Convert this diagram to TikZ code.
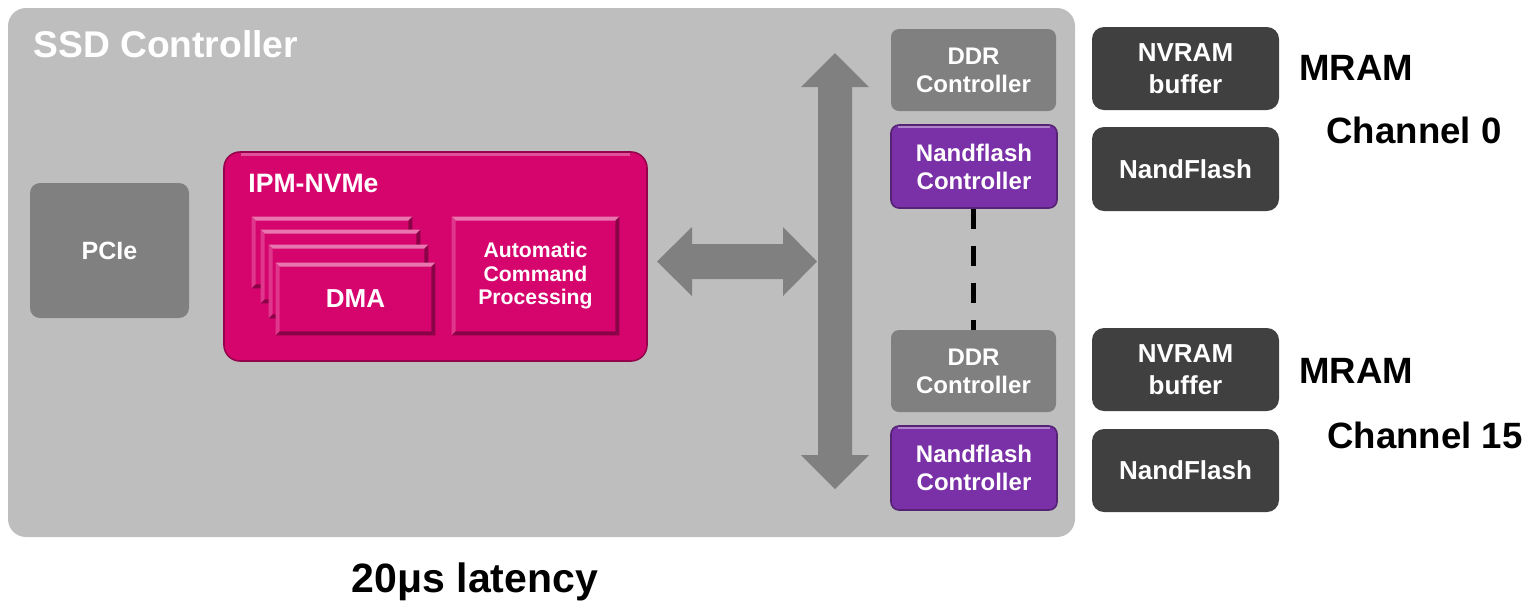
\documentclass[tikz,border=0pt]{standalone}
\usepackage{fontspec}
\setmainfont{Liberation Sans}
\usetikzlibrary{calc}

\definecolor{panelgray}{HTML}{BEBEBE}
\definecolor{midgray}{HTML}{808080}
\definecolor{darkbox}{HTML}{404040}
\definecolor{tmag}{HTML}{D6056E}
\definecolor{tpurple}{HTML}{7A31A7}

% raised-edge effect for the inner IPM blocks
\newcommand\bevelize[1]{%
  \fill[tmag!55!white] (#1.north west) -- (#1.north east) -- ($(#1.north east)+(-4,4)$) -- ($(#1.north west)+(4,4)$) -- cycle;
  \fill[tmag!80!white] (#1.north west) -- ($(#1.north west)+(4,4)$) -- ($(#1.south west)+(4,-4)$) -- (#1.south west) -- cycle;
  \fill[tmag!65!black] (#1.north east) -- (#1.south east) -- ($(#1.south east)+(-4,-4)$) -- ($(#1.north east)+(-4,4)$) -- cycle;
  \fill[tmag!65!black] (#1.south west) -- (#1.south east) -- ($(#1.south east)+(-4,-4)$) -- ($(#1.south west)+(4,-4)$) -- cycle;
}

\tikzset{
  box/.style={rectangle, inner sep=0pt, align=center, text=white,
    font=\bfseries\fontsize{12}{14}\selectfont},
  graybox/.style={box, fill=midgray, rounded corners=4pt},
  nandctl/.style={box, fill=tpurple, draw=tpurple!70!black, line width=0.8pt, rounded corners=4pt},
  memory/.style={box, fill=darkbox, rounded corners=6pt,
    font=\bfseries\fontsize{13}{16}\selectfont},
  ipmblock/.style={box, fill=tmag},
  sidelabel/.style={inner sep=0pt, text=black, font=\bfseries\fontsize{18.3}{22}\selectfont},
  blockarrow/.style={fill=midgray},
}

\begin{document}
\begin{tikzpicture}[x=0.5pt, y=-0.5pt]
\useasboundingbox (0,0) rectangle (1528,602);

% controller panel
\node[box, fill=panelgray, rounded corners=9pt, minimum width=533.5pt, minimum height=264.5pt] (ssd) at (541.5,272.5) {};
\node[anchor=base west, inner sep=0pt, text=white, font=\bfseries\fontsize{18.6}{22}\selectfont] (title) at (33,57) {SSD Controller};

% host interface
\node[graybox, rounded corners=5pt, minimum width=79.5pt, minimum height=67.5pt, font=\bfseries\fontsize{12.5}{15}\selectfont] (pcie) at (109.5,250.5) {PCIe};

% IPM-NVMe block
\node[box, fill=tmag, draw=tmag!70!black, line width=0.8pt, rounded corners=8pt, minimum width=211.5pt, minimum height=104.5pt] (ipm) at (435.5,256.5) {};
\draw[tmag!70!white, line width=1.5pt] ($(ipm.north west)+(18,3)$) -- ($(ipm.north east)+(-18,3)$);
\node[anchor=base west, inner sep=0pt, text=white, font=\bfseries\fontsize{13.3}{16}\selectfont] (ipmlabel) at (248,192) {IPM-NVMe};

\node[ipmblock, minimum width=80pt, minimum height=35.5pt] (dma1) at (332,252.5) {};
\bevelize{dma1}
\node[ipmblock, minimum width=79.5pt, minimum height=36.5pt] (dma2) at (340.5,266.5) {};
\bevelize{dma2}
\node[ipmblock, minimum width=79.5pt, minimum height=36.5pt] (dma3) at (348.5,281.5) {};
\bevelize{dma3}
\node[ipmblock, minimum width=79.5pt, minimum height=36pt, font=\bfseries\fontsize{13}{15}\selectfont] (dma) at (355.5,299) {DMA};
\bevelize{dma}

\node[ipmblock, minimum width=83.5pt, minimum height=59pt, font=\bfseries\fontsize{10.6}{11.75}\selectfont] (acp) at (535.5,276) {Automatic\\Command\\Processing};
\bevelize{acp}

% internal bus and link to the IPM block
\fill[blockarrow] (657,261.5) -- (692,227) -- (692,244) -- (783,244) -- (783,227) -- (817,261.5)
  -- (783,296) -- (783,279) -- (692,279) -- (692,296) -- cycle;
\fill[blockarrow] (835,53) -- (869,87) -- (852,87) -- (852,455) -- (869,455) -- (835,489)
  -- (801,455) -- (818,455) -- (818,87) -- (801,87) -- cycle;

% channel controllers
\node[graybox, minimum width=82.5pt, minimum height=41pt] (ddr0) at (973.5,70) {DDR\\Controller};
\node[nandctl, minimum width=83pt, minimum height=41.5pt] (nfc0) at (974,166.5) {Nandflash\\Controller};
\draw[tpurple!60!white, line width=1pt] ($(nfc0.north west)+(8,3)$) -- ($(nfc0.north east)+(-8,3)$);

\node[graybox, minimum width=82.5pt, minimum height=41pt] (ddr15) at (973.5,371) {DDR\\Controller};
\node[nandctl, minimum width=83pt, minimum height=42pt] (nfc15) at (974,468) {Nandflash\\Controller};
\draw[tpurple!60!white, line width=1pt] ($(nfc15.north west)+(8,3)$) -- ($(nfc15.north east)+(-8,3)$);

\draw[black, line width=2.2pt, dash pattern=on 10pt off 8.5pt] (nfc0.south -| ddr0.south) -- (ddr15.north);

% external memories
\node[memory, minimum width=93.5pt, minimum height=41.5pt] (nv0) at (1185.5,68.5) {NVRAM\\buffer};
\node[memory, minimum width=93.5pt, minimum height=42pt] (nand0) at (1185.5,169) {NandFlash};
\node[memory, minimum width=93.5pt, minimum height=41.5pt] (nv15) at (1185.5,369.5) {NVRAM\\buffer};
\node[memory, minimum width=93.5pt, minimum height=41.5pt] (nand15) at (1185.5,470.5) {NandFlash};

\node[sidelabel] (mram0) at (1356,68) {MRAM};
\node[sidelabel] (chan0) at (1414,130) {Channel 0};
\node[sidelabel] (mram15) at (1356,371) {MRAM};
\node[sidelabel] (chan15) at (1425,435) {Channel 15};

\node[anchor=base, inner sep=0pt, font=\bfseries\fontsize{20.5}{24}\selectfont] (latency) at (475,592) {20μs latency};
\end{tikzpicture}
\end{document}
